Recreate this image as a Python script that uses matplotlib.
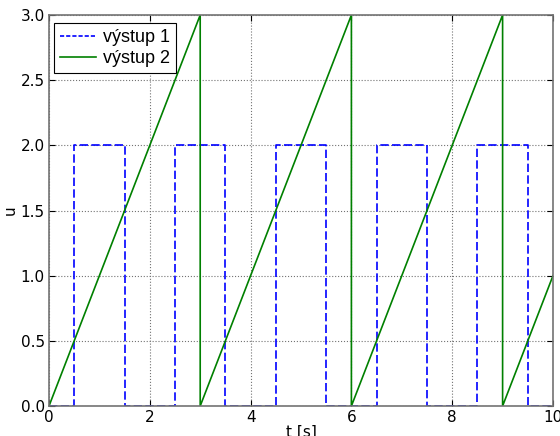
import matplotlib
matplotlib.use('Agg')
import matplotlib.pyplot as plt

# vystup 1 - obdelnikovy signal (hodnoty po skocich)
t1 = [0, 0.5, 1.5, 2.5, 3.5, 4.5, 5.5, 6.5, 7.5, 8.5, 9.5, 10]
u1 = [0, 2, 0, 2, 0, 2, 0, 2, 0, 2, 0, 0]

# vystup 2 - pila
t2 = [0, 3, 3, 6, 6, 9, 9, 10]
u2 = [0, 3, 0, 3, 0, 3, 0, 1]

x_ticks = [0, 2, 4, 6, 8, 10]
y_ticks = [0.0, 0.5, 1.0, 1.5, 2.0, 2.5, 3.0]

fig = plt.figure(figsize=(5.6, 4.36), dpi=100)
ax = fig.add_axes([0.0875, 0.0688, 0.9, 0.8968])

l1, = ax.plot(t1, u1, '--', color='b', linewidth=1.2, drawstyle='steps-post', label='výstup 1')
l1.set_dashes((5, 2))
ax.plot(t2, u2, '-', color=(0, 0.5, 0), linewidth=1.2, label='výstup 2')

ax.set_xlim(0, 10)
ax.set_ylim(0, 3)
ax.set_xticks(x_ticks)
ax.set_yticks(y_ticks)
ax.set_yticklabels(['%.1f' % v for v in y_ticks])
ax.tick_params(direction='in', top=True, right=True, labelsize=11, length=4, pad=3)
ax.grid(True, linestyle=':', color='0.45', linewidth=0.8)
for s in ax.spines.values():
    s.set_color('0.45')
    s.set_linewidth(1.2)

ax.set_xlabel('t [s]', fontsize=11, labelpad=0)
ax.set_ylabel('u', fontsize=11, labelpad=2)

leg = ax.legend(loc='upper left', bbox_to_anchor=(5 / 504, 1 - 8 / 391), borderaxespad=0,
                prop={'family': 'Liberation Sans', 'size': 13},
                fancybox=False, framealpha=1, edgecolor='black', handlelength=2.0,
                handletextpad=0.4, labelspacing=0.22, borderpad=0.33)
leg.get_frame().set_linewidth(0.8)
leg.get_lines()[0].set_dashes((2.5, 1.2))

plt.savefig('out.png', dpi=100)
